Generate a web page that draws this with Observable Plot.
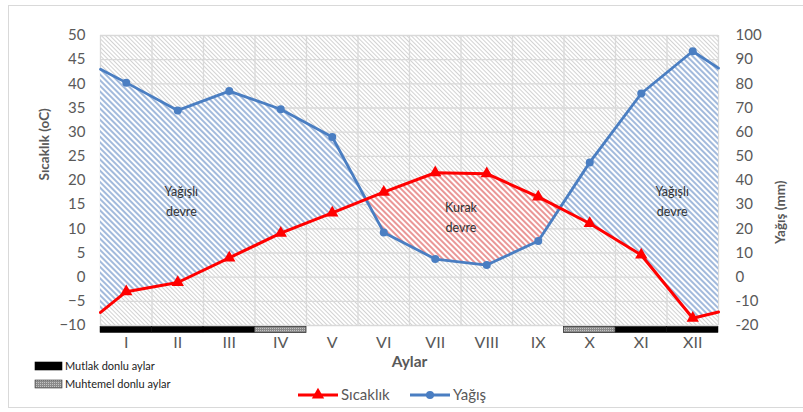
<!DOCTYPE html>
<html><head><meta charset="utf-8">
<script src="https://cdn.jsdelivr.net/npm/d3@7"></script>
<script src="https://cdn.jsdelivr.net/npm/@observablehq/plot@0.6"></script>
<style>
body{margin:0;background:#fff;font-family:Lato,"Open Sans",sans-serif;}
#wrap{position:relative;width:803px;height:412px;overflow:hidden;background:#fff;}
#border{position:absolute;left:8px;top:5px;width:830px;height:403px;border:1px solid #d9d9d9;box-sizing:border-box;}
#wrap > figure, #wrap > svg{position:absolute;left:0;top:0;margin:0;}
</style></head><body><div id="wrap"><div id="border"></div></div>
<script>
// ---- data ----
const months = ["I","II","III","IV","V","VI","VII","VIII","IX","X","XI","XII"];
const temperature = [-3, -1.1, 4, 9.1, 13.3, 17.6, 21.6, 21.4, 16.6, 11.1, 4.6, -8.5];
const precipitation = [80.5, 69, 77, 69.5, 58, 18.5, 7.5, 5, 15, 47.5, 76, 93.5];
const edgeTemperature = [-7.3, -7.2];
const edgePrecipitation = [86, 86.5];
const absoluteFrostMonths = ["I","II","III","XI","XII"];
const probableFrostMonths = ["IV","X"];
const tempTicks = d3.range(-10, 51, 5);
const precipTicks = d3.range(-20, 101, 10);
const annotationTexts = ["Yağışlı\ndevre", "Kurak\ndevre", "Yağışlı\ndevre"];
const annotationX = [1.57, 7.0, 11.1];
const annotationY = [16, 12.8, 16];
const frostLegendLabels = ["Mutlak donlu aylar", "Muhtemel donlu aylar"];
const seriesLegendLabels = ["Sıcaklık", "Yağış"];

// ---- derived ----
const RED = "#ff0000", BLUE = "#4a7ec2", GRAY = "#595959";
const pts = [
  {x: 0, t: edgeTemperature[0], q: edgePrecipitation[0] / 2},
  ...months.map((m, i) => ({x: i + 0.5, t: temperature[i], q: precipitation[i] / 2, m})),
  {x: 12, t: edgeTemperature[1], q: edgePrecipitation[1] / 2}
];
const monthly = pts.filter(d => d.m);
const dense = [];
for (let k = 0; k < pts.length; k++) {
  const a = pts[k];
  dense.push(a);
  const b = pts[k + 1];
  if (!b) break;
  const da = a.q - a.t, db = b.q - b.t;
  if (da * db < 0) {
    const f = da / (da - db);
    const t = a.t + f * (b.t - a.t);
    dense.push({x: a.x + f * (b.x - a.x), t, q: t});
  }
}
const mi = m => months.indexOf(m);

const chart = Plot.plot({
  width: 803, height: 412,
  marginLeft: 100, marginRight: 85, marginTop: 35, marginBottom: 87,
  style: {fontFamily: "Lato, sans-serif", background: "transparent", color: GRAY, overflow: "visible"},
  x: {type: "linear", domain: [0, 12]},
  y: {type: "linear", domain: [-10, 50]},
  marks: [
    Plot.frame({fill: "url(#hatchGray)", stroke: null}),
    Plot.gridY(tempTicks, {stroke: "#d9d9d9", strokeOpacity: 1, strokeWidth: 1.3}),
    Plot.gridX(d3.range(0, 13), {stroke: "#d9d9d9", strokeOpacity: 1, strokeWidth: 1.3}),
    Plot.areaY(dense, {x: "x", y1: "t", y2: d => Math.max(d.t, d.q), fill: "url(#hatchBlue)"}),
    Plot.areaY(dense, {x: "x", y1: "q", y2: d => Math.max(d.t, d.q), fill: "url(#hatchRed)"}),
    Plot.rect(absoluteFrostMonths, {x1: mi, x2: m => mi(m) + 1, y1: -10, y2: -10, insetTop: 1.5, insetBottom: -7.5, fill: "#000", stroke: "#000", strokeWidth: 0.5}),
    Plot.rect(probableFrostMonths, {x1: mi, x2: m => mi(m) + 1, y1: -10, y2: -10, insetTop: 1.5, insetBottom: -7.5, fill: "url(#dots)", stroke: "#333", strokeWidth: 0.8}),
    Plot.line(pts, {x: "x", y: "q", stroke: BLUE, strokeWidth: 2.8}),
    Plot.line(pts, {x: "x", y: "t", stroke: RED, strokeWidth: 3}),
    Plot.dot(monthly, {x: "x", y: "q", r: 4, fill: BLUE}),
    Plot.dot(monthly, {x: "x", y: "t", r: 4.6, symbol: "triangle", fill: RED}),
    Plot.text(annotationTexts, {x: (d, i) => annotationX[i], y: (d, i) => annotationY[i], text: d => d, fontSize: 12.5, fill: "#333", lineHeight: 1.6}),
    Plot.axisX(months.map((m, i) => i + 0.5), {tickSize: 0, tickPadding: 11, fontSize: 16, tickFormat: d => months[Math.round(d - 0.5)], label: null}),
    Plot.axisY(tempTicks, {anchor: "left", tickSize: 0, tickPadding: 15, fontSize: 15, label: null}),
    Plot.axisY(precipTicks.map(p => p / 2), {anchor: "right", tickSize: 0, tickPadding: 17, fontSize: 15, label: null, tickFormat: d => String(Math.round(d * 2))}),
    Plot.text(["Sıcaklık (oC)"], {text: d => d, frameAnchor: "left", dx: -56, rotate: -90, fontWeight: "bold", fontSize: 13.5, fill: GRAY}),
    Plot.text(["Yağış (mm)"], {text: d => d, frameAnchor: "right", dx: 62, rotate: -90, fontWeight: "bold", fontSize: 13.5, fill: GRAY}),
    Plot.text(["Aylar"], {text: d => d, frameAnchor: "bottom", dy: 41, fontWeight: "bold", fontSize: 15.5, fill: GRAY})
  ]
});
document.getElementById("wrap").appendChild(chart);
const svgEl = chart.tagName.toLowerCase() === "svg" ? chart : chart.querySelector("svg");
const defs = d3.select(svgEl).insert("defs", ":first-child");
function hatch(id, size, color, w) {
  const p = defs.append("pattern").attr("id", id).attr("patternUnits", "userSpaceOnUse")
    .attr("width", size).attr("height", size).attr("patternTransform", "rotate(-45)");
  p.append("rect").attr("width", size).attr("height", size).attr("fill", "#fff");
  p.append("line").attr("x1", size / 2).attr("x2", size / 2).attr("y1", -1).attr("y2", size + 1)
    .attr("stroke", color).attr("stroke-width", w);
}
hatch("hatchGray", 3, "#d2d2d2", 1);
hatch("hatchBlue", 4, "#7b9dcd", 1.4);
hatch("hatchRed", 4, "#e26a6a", 1.4);
const dp = defs.append("pattern").attr("id", "dots").attr("patternUnits", "userSpaceOnUse").attr("width", 2).attr("height", 2);
dp.append("rect").attr("width", 2).attr("height", 2).attr("fill", "#8a8a8a");
dp.append("rect").attr("width", 1).attr("height", 1).attr("fill", "#c4c4c4");

// ---- legends ----
const leg = d3.select("#wrap").append("svg").attr("width", 803).attr("height", 412)
  .style("position", "absolute").style("left", 0).style("top", 0)
  .style("font-family", "Lato, sans-serif");
const frostFills = ["#000", "url(#dots)"];
frostLegendLabels.forEach((lab, i) => {
  const y = 366 + i * 18;
  leg.append("rect").attr("x", 35).attr("y", y - 4).attr("width", 27).attr("height", 8)
    .attr("fill", frostFills[i]).attr("stroke", i ? "#333" : "#000").attr("stroke-width", 0.6);
  leg.append("text").attr("x", 65).attr("y", y).attr("dy", "0.35em").attr("font-size", 11)
    .attr("fill", "#222").text(lab);
});
const seriesColors = [RED, BLUE];
const seriesX = [298, 410];
seriesLegendLabels.forEach((lab, i) => {
  const x0 = seriesX[i], y = 395;
  leg.append("line").attr("x1", x0).attr("x2", x0 + 40).attr("y1", y).attr("y2", y)
    .attr("stroke", seriesColors[i]).attr("stroke-width", 3);
  leg.append("path").attr("transform", `translate(${x0 + 20},${y})`)
    .attr("d", d3.symbol(i ? d3.symbolCircle : d3.symbolTriangle, Math.PI * (i ? 16 : 21))())
    .attr("fill", seriesColors[i]);
  leg.append("text").attr("x", x0 + 43).attr("y", y).attr("dy", "0.35em").attr("font-size", 15)
    .attr("fill", GRAY).text(lab);
});
</script></body></html>
